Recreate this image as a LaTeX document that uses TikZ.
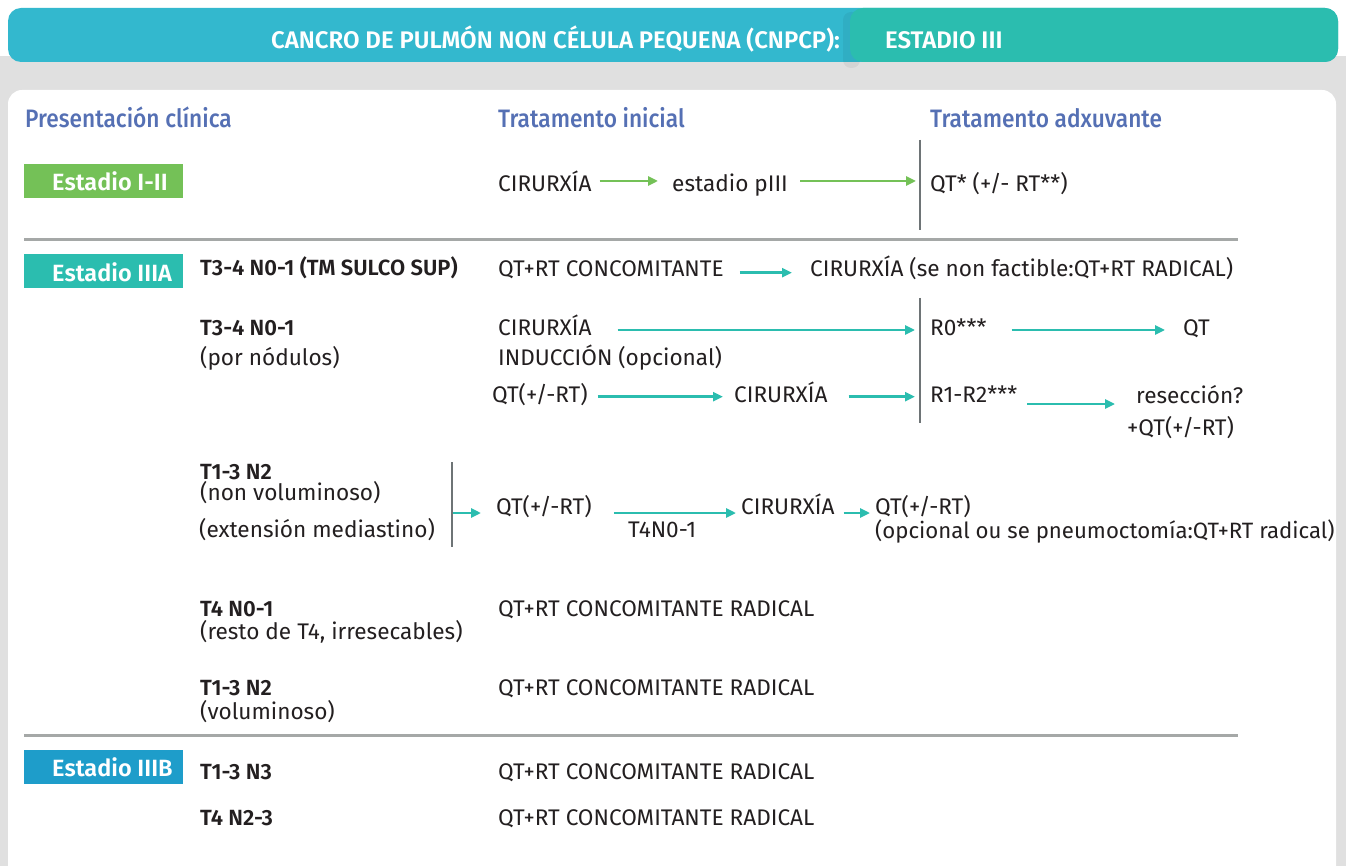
\documentclass[tikz,border=0pt]{standalone}
\usepackage{fontspec}
\usetikzlibrary{arrows.meta,calc}
\newfontfamily\bodyf{Fira Sans}
\newfontfamily\semif{Fira Sans SemiBold}
\newfontfamily\medf{Fira Sans Medium}[FakeStretch=0.9]
\definecolor{ink}{HTML}{231F20}
\definecolor{hdrblue}{HTML}{33B8CE}
\definecolor{hdrteal}{HTML}{2BBDAF}
\definecolor{stgreen}{HTML}{74C157}
\definecolor{stteal}{HTML}{2BBDAF}
\definecolor{stblue}{HTML}{1E9DCA}
\definecolor{colhead}{HTML}{5570B4}
\definecolor{sepgray}{HTML}{A5A8A7}
\definecolor{vgray}{HTML}{6E7476}
\definecolor{bandgray}{HTML}{E0E0E0}
\begin{document}
\begin{tikzpicture}[x=1pt,y=-1pt,
  txt/.style={anchor=base west,inner sep=0pt,text=ink,font=\bodyf\fontsize{22.6}{26}\selectfont},
  lbl/.style={anchor=base west,inner sep=0pt,text=ink,font=\semif\fontsize{22}{24}\selectfont},
  colh/.style={anchor=base west,inner sep=0pt,text=colhead,font=\medf\fontsize{25.2}{28}\selectfont},
  hdr/.style={inner sep=0pt,text=white,font=\semif\fontsize{24}{28}\selectfont},
  badge/.style={anchor=north west,inner sep=0pt,minimum width=159pt,minimum height=34pt},
  badgetxt/.style={anchor=base west,inner sep=0pt,text=white,font=\semif\fontsize{23.5}{28}\selectfont},
  arrG/.style={draw=stgreen,line width=2.8pt,-{Triangle[length=10pt,width=9pt]}},
  arrT/.style={draw=stteal,line width=2.8pt,-{Triangle[length=10pt,width=9pt]}},
  sep/.style={draw=sepgray,line width=3pt},
  vline/.style={draw=vgray,line width=1.5pt},
]
\useasboundingbox (0,0) rectangle (1346,866);
% page ground, shaded band and card
\fill[white] (0,0) rectangle (1346,866);
\fill[bandgray] (0,56) rectangle (1346,866);
\fill[white] (8,90) [rounded corners=14pt] -- (1336,90) -- (1336,880) -- (8,880) -- cycle;
% title bar
\fill[hdrblue, rounded corners=13pt] (8,8) rectangle (1338,62);
\fill[black,opacity=0.05, rounded corners=8pt] (843,12) rectangle (860,68);
\fill[hdrteal, rounded corners=13pt] (850,8) rectangle (1338,62);
\node[hdr,anchor=base east] (title) at (840,48.3) {CANCRO DE PULMÓN NON CÉLULA PEQUENA (CNPCP):};
\node[hdr,anchor=base west] (stage) at (885,48.3) {ESTADIO III};
% column headings
\node[colh] (h1) at (25,127.3) {Presentación clínica};
\node[colh] (h2) at (498,127.3) {Tratamento inicial};
\node[colh] (h3) at (930,127.3) {Tratamento adxuvante};
% stage badges
\node[badge,fill=stgreen] (b1) at (24,164) {};
\node[badgetxt] (b1t) at (52,190.7) {Estadio I-II};
\node[badge,fill=stteal] (b2) at (24,254.3) {};
\node[badgetxt] (b2t) at (52,281.7) {Estadio IIIA};
\node[badge,fill=stblue] (b3) at (24,750) {};
\node[badgetxt] (b3t) at (52,776.7) {Estadio IIIB};
% separators and column rules
\draw[sep] (24,239.5) -- (1238,239.5);
\draw[sep] (24,735) -- (1238,735);
\draw[vline] (920,140) -- (920,230);
\draw[vline] (920,298) -- (920,423);
\draw[vline] (452,462) -- (452,547);
\coordinate (fork) at (453,513);
% stage I-II
\node[txt] (a1) at (498,191.7) {CIRURXÍA};
\node[txt] (a2) at (672,191.7) {estadio pIII};
\node[txt] (a3) at (930,191.7) {QT* (+/- RT**)};
\draw[arrG] ($(a1.base east)+(8,-10.7)$) -- ($(a2.base west)+(-14,-10.7)$);
\draw[arrG] ($(a2.base east)+(12,-10.7)$) -- ($(a3.base west)+(-14,-10.7)$);
% IIIA superior sulcus
\node[lbl] (l1) at (200,276) {T3-4 N0-1 (TM SULCO SUP)};
\node[txt] (c1) at (498,276.7) {QT+RT CONCOMITANTE};
\node[txt] (c2) at (810,276.7) {CIRURXÍA (se non factible:QT+RT RADICAL)};
\draw[arrT] ($(c1.base east)+(16,-4)$) -- ($(c2.base west)+(-18,-4)$);
% IIIA nodules
\node[lbl] (l2) at (200,336) {T3-4 N0-1};
\node[txt] (l2b) at (200,365) {(por nódulos)};
\node[txt] (d1) at (498,335.7) {CIRURXÍA};
\node[txt] (d2) at (930,335.7) {R0***};
\node[txt] (d3) at (1183,335.7) {QT};
\draw[arrT] ($(d1.base east)+(26,-5.7)$) -- ($(d2.base west)+(-15,-5.7)$);
\draw[arrT] ($(d2.base east)+(25,-5.7)$) -- ($(d3.base west)+(-18,-5.7)$);
\node[txt] (e0) at (498,365.7) {INDUCCIÓN (opcional)};
\node[txt] (e1) at (492,402) {QT(+/-RT)};
\node[txt] (e2) at (734,402) {CIRURXÍA};
\node[txt] (e3) at (930,402) {R1-R2***};
\node[txt] (e4) at (1136,403) {resección?};
\node[txt] (e5) at (1127,435) {+QT(+/-RT)};
\draw[arrT] ($(e1.base east)+(10,-5.3)$) -- ($(e2.base west)+(-11,-5.3)$);
\draw[arrT] ($(e2.base east)+(21,-5.3)$) -- ($(e3.base west)+(-15,-5.3)$);
\draw[arrT] ($(e3.base east)+(10,2)$) -- ($(e4.base west)+(-21,1)$);
% IIIA N2 non bulky
\node[lbl] (l3) at (200,479) {T1-3 N2};
\node[txt] (l3b) at (200,500.7) {(non voluminoso)};
\node[txt] (l3c) at (199,537) {(extensión mediastino)};
\node[txt] (f1) at (496,514) {QT(+/-RT)};
\node[txt] (f2) at (741,514) {CIRURXÍA};
\node[txt] (f3) at (875,514) {QT(+/-RT)};
\node[txt] (f4) at (628,537) {T4N0-1};
\node[txt,font=\bodyf\fontsize{22.2}{26}\selectfont] (f5) at (875,538) {(opcional ou se pneumoctomía:QT+RT radical)};
\draw[arrT] (fork) -- ($(f1.base west)+(-15,-1)$);
\draw[arrT] ($(f1.base east)+(22,-1)$) -- ($(f2.base west)+(-5,-1)$);
\draw[arrT] ($(f2.base east)+(9,-1)$) -- ($(f3.base west)+(-5,-1)$);
% IIIA T4 and bulky N2
\node[lbl] (l4) at (200,616.7) {T4 N0-1};
\node[txt] (l4b) at (200,639) {(resto de T4, irresecables)};
\node[txt] (g1) at (498,616.7) {QT+RT CONCOMITANTE RADICAL};
\node[lbl] (l5) at (200,695.7) {T1-3 N2};
\node[txt] (l5b) at (200,719) {(voluminoso)};
\node[txt] (g2) at (498,695.7) {QT+RT CONCOMITANTE RADICAL};
% IIIB
\node[lbl] (l6) at (200,779) {T1-3 N3};
\node[txt] (g3) at (498,779) {QT+RT CONCOMITANTE RADICAL};
\node[lbl] (l7) at (200,825) {T4 N2-3};
\node[txt] (g4) at (498,825) {QT+RT CONCOMITANTE RADICAL};
\end{tikzpicture}
\end{document}
